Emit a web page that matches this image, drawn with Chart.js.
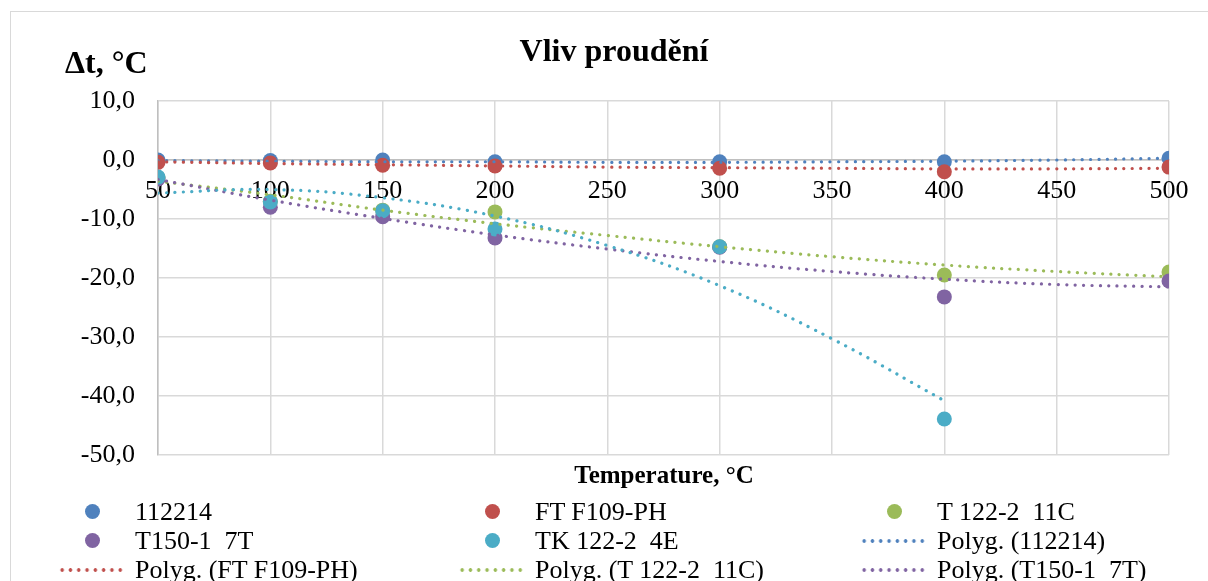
<!DOCTYPE html>
<html>
<head>
<meta charset="utf-8">
<script src="https://cdn.jsdelivr.net/npm/chart.js@4/dist/chart.umd.min.js"></script>
<style>
	html, body { margin: 0; padding: 0; background: #fff; overflow: hidden; }
	#frame { position: absolute; left: 10px; top: 11px; width: 1230px; height: 620px; border: 1px solid #d9d9d9; }
	#wrap { position: absolute; left: 0; top: 0; width: 1208px; height: 581px; }
	#legend {
		position: absolute; left: 58px; top: 497px;
		display: grid; grid-template-columns: 400px 402px 400px;
		font-family: "Liberation Serif", "Times New Roman", serif; font-size: 26px; color: #000;
	}
	.item { display: flex; align-items: center; height: 29px; white-space: pre; }
	.sym { width: 67px; height: 29px; margin-right: 10px; position: relative; flex: none; }
	.dot { position: absolute; left: 27px; top: 7px; width: 15px; height: 15px; border-radius: 50%; }
	.dash { position: absolute; left: 0; top: 13px; width: 67px; height: 4px; background-size: 8.3px 4px; background-repeat: repeat-x; }
</style>
</head>
<body>
<div id="frame"></div>
<div id="wrap"><canvas id="chart" width="1208" height="581"></canvas></div>
<div id="legend"></div>
<script>
// measured points
const temps = [50, 100, 150, 200, 300, 400, 500];
const s112214 = [0.0, -0.1, 0.0, -0.3, -0.3, -0.3, 0.3];
const sFT = [-0.4, -0.5, -0.9, -1.0, -1.4, -2.0, -1.2];
const sT122 = [-3.0, -7.0, -8.5, -8.8, -14.7, -19.5, -19.0];
const sT150 = [-3.2, -8.0, -9.6, -13.2, -14.8, -23.2, -20.5];
const sTK = [-2.9, -7.1, -8.6, -11.7, -14.7, -43.9, null];

// polynomial trendlines
const trendX = [50, 100, 150, 200, 250, 300, 350, 400, 450, 500];
const tr112214 = [-0.1, -0.2, -0.3, -0.3, -0.4, -0.4, -0.3, -0.2, 0.0, 0.3];
const trFT = [-0.3, -0.6, -0.8, -1.0, -1.2, -1.3, -1.4, -1.5, -1.5, -1.4];
const trT122 = [-3.6, -5.9, -8.5, -10.8, -12.8, -14.7, -16.4, -17.8, -18.9, -19.8];
const trT150 = [-3.3, -6.8, -9.9, -12.7, -15.1, -17.2, -18.9, -20.2, -21.1, -21.5];
const trTK = [-5.6, -5.0, -6.4, -9.5, -14.5, -21.3, -30.3, -40.8];

const yTicks = [10, 0, -10, -20, -30, -40, -50];

const names = ['112214', 'FT F109-PH', 'T 122-2  11C', 'T150-1  7T', 'TK 122-2  4E'];
const colors = ['#4f81bd', '#c0504d', '#9bbb59', '#8064a2', '#4bacc6'];
const series = [s112214, sFT, sT122, sT150, sTK];
const trends = [tr112214, trFT, trT122, trT150, trTK];

const toPoints = (xs, ys) => xs.map((x, i) => ({ x: x, y: ys[i] })).filter(p => p.y !== null && p.y !== undefined);

const datasets = [];
series.forEach((s, i) => {
	datasets.push({
		type: 'scatter',
		label: names[i],
		data: toPoints(temps, s),
		backgroundColor: colors[i],
		borderColor: colors[i],
		pointRadius: 7.5,
		pointBorderWidth: 0,
		showLine: false,
		order: 10 - i
	});
});
trends.forEach((t, i) => {
	datasets.push({
		type: 'line',
		label: 'Polyg. (' + names[i] + ')',
		data: toPoints(trendX, t),
		borderColor: colors[i],
		borderWidth: 3.2,
		borderDash: [0.1, 8.3],
		borderCapStyle: 'round',
		pointRadius: 0,
		tension: 0.4,
		fill: false,
		isTrend: true,
		order: 5 - i
	});
});

const serif = '"Liberation Serif", "Times New Roman", serif';

const textPlugin = {
	id: 'texts',
	afterDraw(chart) {
		const ctx = chart.ctx;
		ctx.save();
		ctx.fillStyle = '#000';
		ctx.textBaseline = 'alphabetic';
		ctx.font = 'bold 32px ' + serif;
		ctx.textAlign = 'center';
		ctx.fillText('Vliv proudění', 614, 61);
		ctx.textAlign = 'left';
		ctx.font = 'bold 32px ' + serif;
		ctx.fillText('Δt, °C', 65, 73);
		ctx.textAlign = 'center';
		ctx.font = 'bold 25px ' + serif;
		ctx.fillText('Temperature, °C', 664, 483);
		ctx.restore();
	}
};

const htmlLegend = {
	id: 'htmlLegend',
	afterUpdate(chart) {
		const box = document.getElementById('legend');
		box.innerHTML = '';
		chart.data.datasets.forEach(ds => {
			const item = document.createElement('div');
			item.className = 'item';
			const sym = document.createElement('span');
			sym.className = 'sym';
			const mark = document.createElement('span');
			if (ds.isTrend) {
				mark.className = 'dash';
				mark.style.backgroundImage = `radial-gradient(circle at center, ${ds.borderColor} 1.5px, transparent 2.1px)`;
			} else {
				mark.className = 'dot';
				mark.style.background = ds.backgroundColor;
			}
			sym.appendChild(mark);
			const txt = document.createElement('span');
			txt.textContent = ds.label;
			item.appendChild(sym);
			item.appendChild(txt);
			box.appendChild(item);
		});
	}
};

new Chart(document.getElementById('chart'), {
	data: { datasets: datasets },
	options: {
		responsive: false,
		animation: false,
		layout: { padding: { top: 101, bottom: 126, left: 0, right: 39 } },
		plugins: {
			legend: { display: false },
			title: { display: false },
			tooltip: { enabled: false }
		},
		scales: {
			x: {
				type: 'linear',
				position: { y: 0 },
				min: 50,
				max: 500,
				ticks: {
					stepSize: 50,
					color: '#000',
					padding: 16,
					font: { family: serif, size: 26 },
					maxRotation: 0
				},
				grid: { color: '#d9d9d9', lineWidth: 1.5, drawTicks: false },
				border: { color: '#bfbfbf', width: 1.5 }
			},
			y: {
				type: 'linear',
				position: 'left',
				min: -50,
				max: 10,
				afterFit(scale) { scale.width = 158; },
				afterBuildTicks(scale) { scale.ticks = yTicks.map(v => ({ value: v })); },
				ticks: {
					color: '#000',
					padding: 23,
					font: { family: serif, size: 26 },
					callback: v => v.toFixed(1).replace('.', ',')
				},
				grid: { color: '#d9d9d9', lineWidth: 1.5, drawTicks: false },
				border: { color: '#bfbfbf', width: 1.5 }
			}
		}
	},
	plugins: [textPlugin, htmlLegend]
});
</script>
</body>
</html>
